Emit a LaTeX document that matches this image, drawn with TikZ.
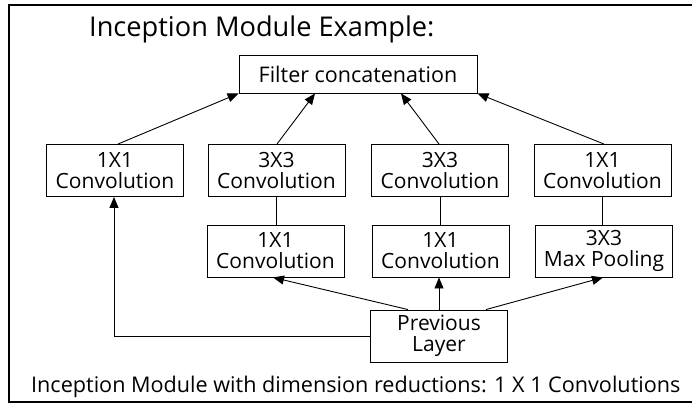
\documentclass[tikz,border=0pt]{standalone}
\usepackage{fontspec}
\setmainfont{Open Sans}
\usetikzlibrary{arrows.meta}
\begin{document}
\begin{tikzpicture}[x=1pt,y=-1pt,
  box/.style={draw,line width=0.9pt,minimum width=137pt,minimum height=52pt,inner sep=0pt,align=center,font=\fontsize{21}{21}\selectfont},
  arr/.style={line width=0.9pt,-{Triangle[length=11pt,width=9pt]}},
  ln/.style={line width=0.9pt}]
\useasboundingbox (0,0) rectangle (692,404);
\draw[line width=1.8pt] (694,5) -- (9,5) -- (9,402) -- (694,402);
\node[anchor=base west,inner sep=0pt,font=\fontsize{27.2}{28}\selectfont] (title) at (89,37) {Inception Module Example:};
\node[draw,line width=0.9pt,minimum width=238pt,minimum height=38pt,inner sep=0pt,font=\fontsize{21.5}{22}\selectfont] (filt) at (358,74) {Filter concatenation};
\node[box] (a) at (115,170.5) {1X1\\Convolution};
\node[box] (b) at (276.5,170.5) {3X3\\Convolution};
\node[box] (c) at (440,170.5) {3X3\\Convolution};
\node[box] (d) at (602.5,170.5) {1X1\\Convolution};
\node[box] (e) at (275.5,251) {1X1\\Convolution};
\node[box] (f) at (440.5,251) {1X1\\Convolution};
\node[box] (g) at (604,251) {3X3\\Max Pooling};
\node[box] (p) at (439,336) {Previous\\Layer};
\node[anchor=base west,inner sep=0pt,font=\fontsize{21.6}{22}\selectfont] (cap) at (31,392) {Inception Module with dimension reductions: 1 X 1 Convolutions};
\draw[arr] ([xshift=3pt]a.north) -- (filt.south west);
\draw[arr] ([xshift=0.5pt]b.north) -- ([xshift=-43pt]filt.south);
\draw[arr] ([xshift=-1pt]c.north) -- ([xshift=43pt]filt.south);
\draw[arr] ([xshift=1.5pt]d.north) -- (filt.south east);
\draw[ln] (b.south) -- (b.south |- e.north);
\draw[ln] (c.south) -- (c.south |- f.north);
\draw[ln] (d.south) -- (d.south |- g.north);
\draw[arr] (p.north) -- (p.north |- f.south);
\draw[arr] ([xshift=-31pt]p.north) -- ([xshift=-2.5pt]e.south);
\draw[arr] ([xshift=47pt]p.north) -- ([xshift=-1pt]g.south);
\draw[arr] (p.west) -| ([xshift=-1pt]a.south);
\end{tikzpicture}
\end{document}
